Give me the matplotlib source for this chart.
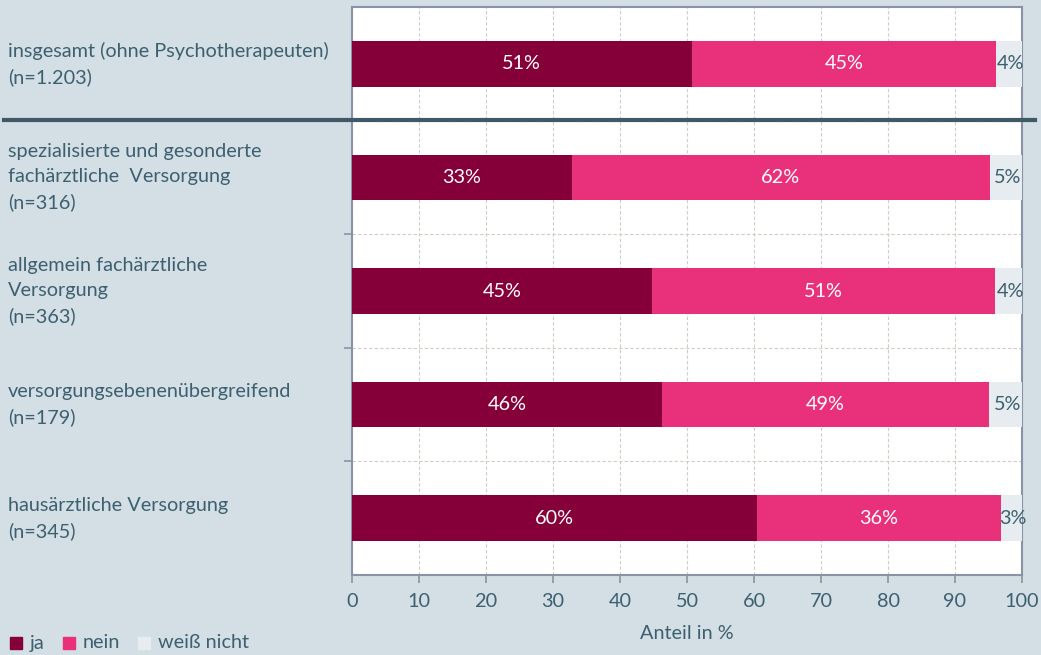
import matplotlib.pyplot as plt
from matplotlib.lines import Line2D
from matplotlib.patches import Rectangle
from matplotlib.transforms import blended_transform_factory

plt.rcParams['font.family'] = ['Lato', 'DejaVu Sans']

# Daten (von oben nach unten)
categories = [
    "insgesamt (ohne Psychotherapeuten)\n(n=1.203)",
    "spezialisierte und gesonderte\nfachärztliche  Versorgung\n(n=316)",
    "allgemein fachärztliche\nVersorgung\n(n=363)",
    "versorgungsebenenübergreifend\n(n=179)",
    "hausärztliche Versorgung\n(n=345)",
]
ja = [50.7, 32.8, 44.8, 46.3, 60.4]
nein = [45.4, 62.4, 51.2, 48.7, 36.4]
weiss_nicht = [3.9, 4.8, 4.0, 5.0, 3.2]
series_names = ["ja", "nein", "weiß nicht"]

bg = "#d3dee5"
txt = "#3d6070"
col_ja = "#850039"
col_nein = "#e8317a"
col_wn = "#e6ecf0"
spine_col = "#8a93a5"
fs = 14.3

fig = plt.figure(figsize=(10.41, 6.55), dpi=100, facecolor=bg)
ax = fig.add_axes([352 / 1041, 1 - 575 / 655, 670 / 1041, 568 / 655])
ax.set_facecolor("white")

y = list(range(len(categories)))
h = 0.4
left_nein = [a for a in ja]
left_wn = [a + b for a, b in zip(ja, nein)]
ax.barh(y, ja, height=h, color=col_ja, zorder=3)
ax.barh(y, nein, left=left_nein, height=h, color=col_nein, zorder=3)
ax.barh(y, weiss_nicht, left=left_wn, height=h, color=col_wn, zorder=3)

for i in y:
    ax.text(ja[i] / 2, i, f"{ja[i]:.0f}%", ha="center", va="center",
            color="white", fontsize=fs, zorder=4)
    ax.text(left_nein[i] + nein[i] / 2, i, f"{nein[i]:.0f}%", ha="center",
            va="center", color="white", fontsize=fs, zorder=4)
    ax.text(left_wn[i] + weiss_nicht[i] / 2 + 0.3, i, f"{weiss_nicht[i]:.0f}%",
            ha="center", va="center", color=txt, fontsize=fs, zorder=4)

ax.set_xlim(0, 100)
ax.set_ylim(len(categories) - 0.5, -0.5)
ax.set_xticks(range(0, 101, 10))
ax.set_yticks([i + 0.5 for i in range(len(categories) - 1)])
ax.set_yticklabels([])
ax.tick_params(axis="x", colors=spine_col, labelcolor=txt, labelsize=fs,
               length=6, width=1.2, pad=7)
ax.tick_params(axis="y", colors=spine_col, length=6, width=1.2)
ax.grid(True, color="#d2ccc4", linestyle=(0, (3, 2)), linewidth=0.8, zorder=0)
for s in ax.spines.values():
    s.set_color(spine_col)
    s.set_linewidth(1.5)

ax.set_xlabel("Anteil in %", color=txt, fontsize=fs, labelpad=11)

# Kategorienbeschriftungen links
trans = blended_transform_factory(fig.transFigure, ax.transData)
for i, c in enumerate(categories):
    ax.text(8 / 1041, i, c, transform=trans, ha="left", va="center",
            color=txt, fontsize=fs, linespacing=1.55)

# Trennlinie unter "insgesamt"
fig.add_artist(Line2D([4 / 1041, 1035 / 1041], [1 - 120 / 655] * 2,
                      color="#3f5a66", linewidth=3, zorder=10))

# Legende
lx = 10
for name, col in zip(series_names, [col_ja, col_nein, col_wn]):
    fig.add_artist(Rectangle((lx / 1041, 1 - 649 / 655), 12 / 1041, 12 / 655,
                             color=col, transform=fig.transFigure))
    t = fig.text((lx + 20) / 1041, 1 - 643 / 655, name, ha="left",
                 va="center", color=txt, fontsize=fs)
    fig.canvas.draw()
    bb = t.get_window_extent()
    lx = bb.x1 + 18

fig.savefig("out.png", dpi=100, facecolor=bg)
